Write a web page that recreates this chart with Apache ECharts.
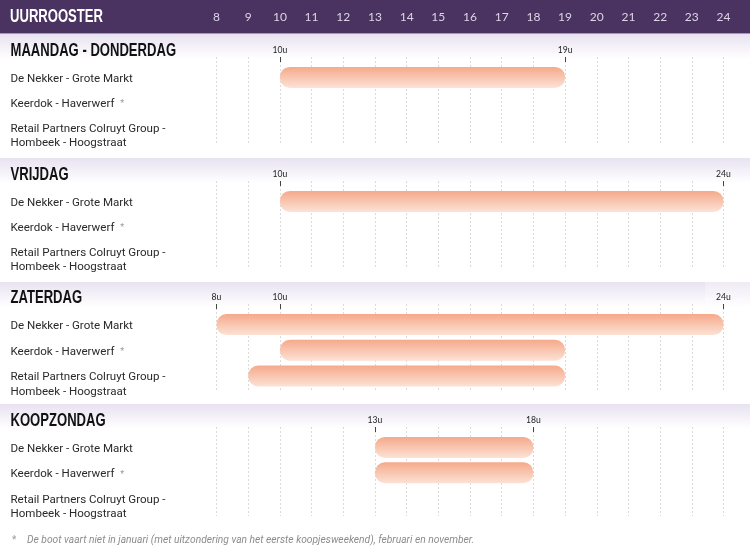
<!DOCTYPE html>
<html><head><meta charset="utf-8">
<style>html,body{margin:0;padding:0;background:#fff}#c{width:750px;height:551px}</style>
<script src="https://cdn.jsdelivr.net/npm/echarts@6/dist/echarts.min.js"></script>
</head><body><div id="c"></div>
<script>
// ---- data ----
const hours = [8,9,10,11,12,13,14,15,16,17,18,19,20,21,22,23,24];
const rowLabels = ['De Nekker - Grote Markt','Keerdok - Haverwerf  {a|*}','\nRetail Partners Colruyt Group -\nHombeek - Hoogstraat'];
const dayNames = ['MAANDAG - DONDERDAG','VRIJDAG','ZATERDAG','KOOPZONDAG'];
// [row, open hour, close hour]
const maandagDonderdag = [[0,10,19]];
const vrijdag = [[0,10,24]];
const zaterdag = [[0,8,24],[1,10,19],[2,9,19]];
const koopzondag = [[0,13,18],[1,13,18]];
const tickHours = [[10,19],[10,24],[8,10,24],[13,18]];
const schedules = [maandagDonderdag,vrijdag,zaterdag,koopzondag];
const headerTitle = 'UURROOSTER';
const footStar = '*';
const footNote = 'De boot vaart niet in januari (met uitzondering van het eerste koopjesweekend), februari en november.';

// ---- layout ----
const L = 216.5, W = 507, BAR_H = 21;
const panels = [
  {band:34,  title:50,  lineTop:57,  lineBot:143, row0:77.4,  step:25.2},
  {band:158, title:174, lineTop:181, lineBot:267, row0:201.4, step:25.2},
  {band:282, title:297, lineTop:304, lineBot:390, row0:324.6, step:25.7},
  {band:404, title:420, lineTop:427, lineBot:516, row0:447.4, step:25.4}
];
const BODY = 'Roboto, Lato, sans-serif';
const COND = '"Liberation Sans", sans-serif';

const grid=[], xAxis=[], yAxis=[], series=[], title=[], graphic=[];
const heading=(text,x,y,fill)=>({type:'text',z:10,x,y,scaleX:0.747,scaleY:1,
  style:{text,fill,font:'bold 17.5px '+COND,textAlign:'left',textVerticalAlign:'middle'}});
graphic.push({type:'rect',z:-10,shape:{x:0,y:0,width:750,height:33.5},style:{fill:'#4A3360'}});
graphic.push(heading(headerTitle,10,17,'#fff'));

// header hour axis
grid.push({left:L,width:W,top:16,height:1});
xAxis.push({type:'value',gridIndex:0,min:8,max:24,interval:1,position:'bottom',
  axisLine:{show:false},axisTick:{show:false},splitLine:{show:false},
  axisLabel:{margin:0,verticalAlign:'middle',color:'#DDD6E6',fontFamily:'Lato, sans-serif',fontSize:12,
    showMinLabel:true,showMaxLabel:true,hideOverlap:false}});
yAxis.push({type:'value',gridIndex:0,show:false});

panels.forEach((p,i)=>{
  graphic.push({type:'rect',z:-10,shape:{x:0,y:p.band,width:750,height:25},
    style:{fill:new echarts.graphic.LinearGradient(0,0,0,1,[{offset:0,color:'#E8E2F1'},{offset:1,color:'#FFFFFF'}])}});
  graphic.push(heading(dayNames[i],10.5,p.title+0.7,'#111'));

  // grid with gridlines and opening-hour ticks
  const g1 = grid.length;
  grid.push({left:L,width:W,top:p.lineTop,height:p.lineBot-p.lineTop});
  xAxis.push({type:'value',gridIndex:g1,min:8,max:24,interval:1,position:'bottom',
    axisLine:{show:false},axisTick:{show:false},axisLabel:{show:false},
    splitLine:{show:true,lineStyle:{color:'#DADADA',type:[2,2],width:1}}});
  xAxis.push({type:'value',gridIndex:g1,min:8,max:24,position:'top',
    axisLine:{show:false},splitLine:{show:false},
    axisTick:{show:true,inside:true,length:5,customValues:tickHours[i],lineStyle:{color:'#444',width:1}},
    axisLabel:{show:true,customValues:tickHours[i],formatter:'{value}u',margin:2,color:'#222',fontFamily:'Lato, sans-serif',fontSize:8.6,
      showMinLabel:true,showMaxLabel:true,hideOverlap:false}});
  yAxis.push({type:'value',gridIndex:g1,show:false});

  // grid with the rows and bars
  const g2 = grid.length;
  grid.push({left:L,width:W,top:p.row0-p.step/2,height:p.step*3});
  xAxis.push({type:'value',gridIndex:g2,min:8,max:24,show:false});
  yAxis.push({type:'category',gridIndex:g2,inverse:true,data:rowLabels,
    axisLine:{show:false},axisTick:{show:false},splitLine:{show:false},
    axisLabel:{show:true,margin:L-10.5,align:'left',interval:0,padding:[3,0,0,0],color:'#2A2A2A',fontFamily:BODY,fontSize:11.55,lineHeight:14.2,
      rich:{a:{color:'#999',fontSize:9,fontFamily:BODY,lineHeight:14.2}}}});
  series.push({type:'custom',xAxisIndex:xAxis.length-1,yAxisIndex:yAxis.length-1,z:5,silent:true,
    encode:{x:[1,2],y:0},data:schedules[i],
    renderItem:(params,api)=>{
      const a=api.coord([api.value(1),api.value(0)]);
      const b=api.coord([api.value(2),api.value(0)]);
      return {type:'rect',shape:{x:a[0],y:a[1]-BAR_H/2,width:b[0]-a[0],height:BAR_H,r:10},
        style:{fill:new echarts.graphic.LinearGradient(0,0,0,1,[{offset:0,color:'#F5A98B'},{offset:1,color:'#FCE2D5'}])}};
    }});
});
graphic.push({type:'rect',z:-9,shape:{x:705,y:282,width:45,height:23},style:{fill:'rgba(255,255,255,0.3)'}});

title.push({text:footStar,padding:0,left:12,top:535,textStyle:{fontFamily:BODY,fontSize:10,color:'#999',fontWeight:'normal'}});
title.push({text:footNote,padding:0,left:27,top:535,textStyle:{fontFamily:BODY,fontStyle:'italic',fontWeight:'normal',fontSize:10.25,color:'#8C8C8C'}});

const chart = echarts.init(document.getElementById('c'),null,{renderer:'canvas'});
chart.setOption({animation:false,backgroundColor:'#fff',title,grid,xAxis,yAxis,series,graphic:{elements:graphic}});
</script></body></html>
